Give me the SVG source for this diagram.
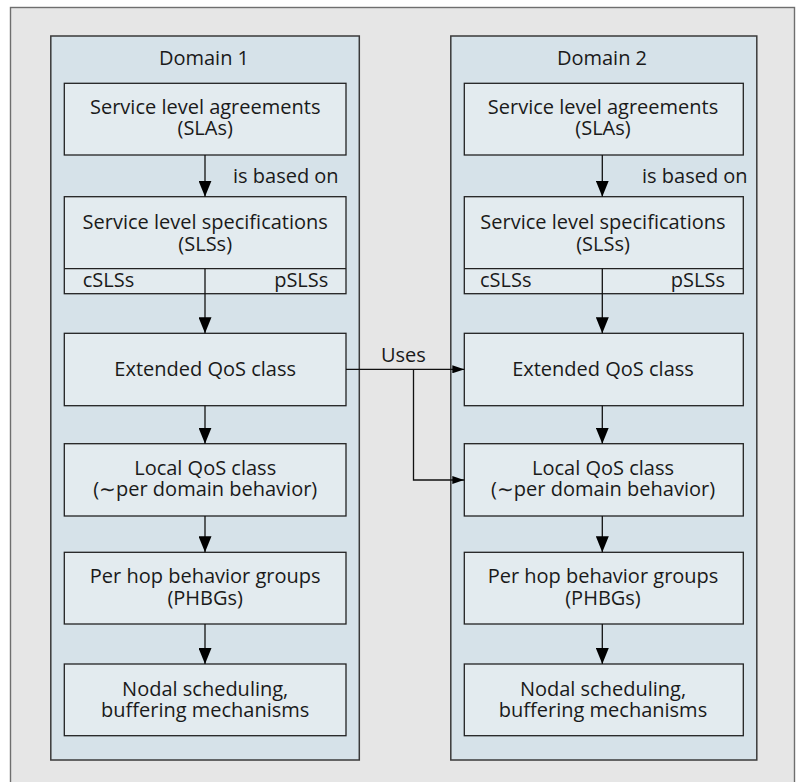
<svg xmlns="http://www.w3.org/2000/svg" width="797" height="782" viewBox="0 0 797 782">
<style>
.frame{fill:#e6e6e6;stroke:#6e6e6e;stroke-width:1.4}
.domain{fill:#d6e2e9;stroke:#3a3a3a;stroke-width:1.5}
.box{fill:#e3ebef;stroke:#222;stroke-width:1.3}
.sub{fill:none;stroke:#222;stroke-width:1.3}
text{font-family:"Open Sans","Noto Sans","Liberation Sans",sans-serif;font-size:20px;fill:#1a1a1a}
.c{text-anchor:middle}
.e{text-anchor:end}
.conn{fill:none;stroke:#111;stroke-width:1.3}
</style>
<defs>
<marker id="big" viewBox="0 0 16 13" refX="16" refY="6.5" markerWidth="16" markerHeight="13" markerUnits="userSpaceOnUse" orient="auto">
<path d="M0,0 L16,6.5 L0,13 Z" fill="#000"/>
</marker>
<marker id="small" viewBox="0 0 12 8" refX="12" refY="4" markerWidth="12" markerHeight="8" markerUnits="userSpaceOnUse" orient="auto">
<path d="M0,0 L12,4 L0,8 Z" fill="#000"/>
</marker>
</defs>
<rect class="frame" x="10.5" y="7.5" width="784" height="780"/>

<g id="domain1">
<rect class="domain" x="50.8" y="36" width="308.5" height="724"/>
<text class="c" x="204" y="65">Domain 1</text>
</g>
<g id="domain2">
<rect class="domain" x="450.8" y="36" width="306" height="724"/>
<text class="c" x="602" y="65">Domain 2</text>
</g>

<g id="d1-sla">
<rect class="box" x="64.3" y="83.3" width="281.7" height="71.7"/>
<text class="c" x="205.2" y="114.3">Service level agreements<tspan x="205.2" dy="21">(SLAs)</tspan></text>
</g>
<g id="d1-sls">
<rect class="box" x="64.3" y="196.7" width="281.7" height="97"/>
<line class="sub" x1="64.3" y1="268.7" x2="346" y2="268.7"/>
<text class="c" x="205.2" y="229.3">Service level specifications<tspan x="205.2" dy="21.2">(SLSs)</tspan></text>
<text x="82.7" y="286.7">cSLSs</text>
<text class="e" x="328.3" y="286.7">pSLSs</text>
</g>
<g id="d1-ext">
<rect class="box" x="64.3" y="333.3" width="281.7" height="72.4"/>
<text class="c" x="205.2" y="375.7">Extended QoS class</text>
</g>
<g id="d1-local">
<rect class="box" x="64.3" y="443.7" width="281.7" height="72.3"/>
<text class="c" x="205.2" y="475">Local QoS class<tspan x="205.2" dy="21">(∼per domain behavior)</tspan></text>
</g>
<g id="d1-phb">
<rect class="box" x="64.3" y="552.3" width="281.7" height="71.7"/>
<text class="c" x="205.2" y="583.3">Per hop behavior groups<tspan x="205.2" dy="21.2">(PHBGs)</tspan></text>
</g>
<g id="d1-nodal">
<rect class="box" x="64.3" y="664" width="281.7" height="71.7"/>
<text class="c" x="205.2" y="695.7">Nodal scheduling,<tspan x="205.2" dy="21">buffering mechanisms</tspan></text>
</g>

<g id="d2-sla">
<rect class="box" x="464.3" y="83.3" width="279" height="71.7"/>
<text class="c" x="603" y="114.3">Service level agreements<tspan x="603" dy="21">(SLAs)</tspan></text>
</g>
<g id="d2-sls">
<rect class="box" x="464.3" y="196.7" width="279" height="97"/>
<line class="sub" x1="464.3" y1="268.7" x2="743.3" y2="268.7"/>
<text class="c" x="603" y="229.3">Service level specifications<tspan x="603" dy="21.2">(SLSs)</tspan></text>
<text x="480" y="286.7">cSLSs</text>
<text class="e" x="725" y="286.7">pSLSs</text>
</g>
<g id="d2-ext">
<rect class="box" x="464.3" y="333.3" width="279" height="72.4"/>
<text class="c" x="603" y="375.7">Extended QoS class</text>
</g>
<g id="d2-local">
<rect class="box" x="464.3" y="443.7" width="279" height="72.3"/>
<text class="c" x="603" y="475">Local QoS class<tspan x="603" dy="21">(∼per domain behavior)</tspan></text>
</g>
<g id="d2-phb">
<rect class="box" x="464.3" y="552.3" width="279" height="71.7"/>
<text class="c" x="603" y="583.3">Per hop behavior groups<tspan x="603" dy="21.2">(PHBGs)</tspan></text>
</g>
<g id="d2-nodal">
<rect class="box" x="464.3" y="664" width="279" height="71.7"/>
<text class="c" x="603" y="695.7">Nodal scheduling,<tspan x="603" dy="21">buffering mechanisms</tspan></text>
</g>

<g id="connectors">
<line class="conn" x1="205" y1="155" x2="205" y2="196.7" marker-end="url(#big)"/>
<text x="233" y="183.3">is based on</text>
<line class="conn" x1="205" y1="268.7" x2="205" y2="333.3" marker-end="url(#big)"/>
<line class="conn" x1="205" y1="405.7" x2="205" y2="443.7" marker-end="url(#big)"/>
<line class="conn" x1="205" y1="516" x2="205" y2="552.3" marker-end="url(#big)"/>
<line class="conn" x1="205" y1="624" x2="205" y2="664" marker-end="url(#big)"/>

<line class="conn" x1="602.3" y1="155" x2="602.3" y2="196.7" marker-end="url(#big)"/>
<text x="642" y="183.3">is based on</text>
<line class="conn" x1="602.3" y1="268.7" x2="602.3" y2="333.3" marker-end="url(#big)"/>
<line class="conn" x1="602.3" y1="405.7" x2="602.3" y2="443.7" marker-end="url(#big)"/>
<line class="conn" x1="602.3" y1="516" x2="602.3" y2="552.3" marker-end="url(#big)"/>
<line class="conn" x1="602.3" y1="624" x2="602.3" y2="664" marker-end="url(#big)"/>

<line class="conn" x1="346" y1="369.3" x2="464.3" y2="369.3" marker-end="url(#small)"/>
<polyline class="conn" points="413.5,369.3 413.5,480 464.3,480" marker-end="url(#small)"/>
<text x="381" y="361.5">Uses</text>
</g>
</svg>
